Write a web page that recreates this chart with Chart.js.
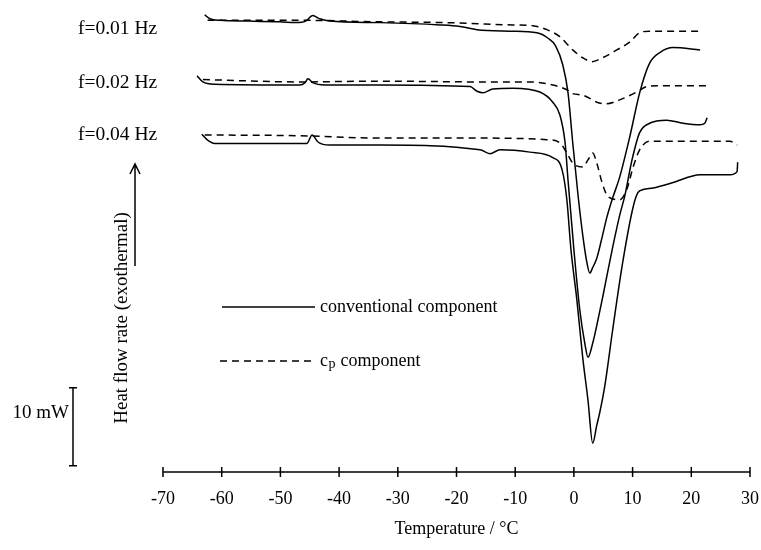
<!DOCTYPE html>
<html lang="en">
<head>
    <meta charset="UTF-8">
    <title>Heat flow rate vs temperature</title>
    <script src="https://cdn.jsdelivr.net/npm/chart.js"></script>
    <style>
        body { margin: 0; background: #fff; }
        canvas { display: block; }
    </style>
</head>
<body>
    <canvas id="dsc" width="761" height="550"></canvas>

    <script>
        // temperatures (°C) and heat flow values (mW, 0 = temperature axis)
        const tempConv001 = [-62.9, -62.0, -60.3, -55.2, -50.1, -47.4, -45.7, -44.5, -43.3, -41.6, -33.0, -22.8, -19.4, -16.5, -10.9, -6.3, -4.4, -3.1, -1.9, -1.0, -0.2, 0.7, 1.5, 2.2, 2.7, 3.2, 3.9, 4.9, 5.6, 6.5, 7.8, 9.5, 11.2, 12.9, 14.7, 16.9, 21.5];
        const flowConv001 = [58.6, 58.1, 57.9, 57.8, 57.7, 57.6, 57.8, 58.5, 58.1, 57.8, 57.6, 57.3, 57.1, 56.7, 56.5, 56.3, 55.6, 54.6, 52.2, 48.6, 42.2, 35.5, 30.4, 26.9, 25.5, 26.2, 27.4, 30.4, 32.6, 34.9, 37.8, 42.9, 48.6, 52.4, 53.8, 54.4, 54.1];

        const tempCp001 = [-62.4, -46.7, -33.0, -21.6, -10.4, -7.0, -4.6, -2.4, -0.2, 1.5, 3.1, 4.9, 7.3, 9.5, 11.2, 12.9, 21.5];
        const flowCp001 = [57.9, 57.9, 57.7, 57.6, 57.3, 57.2, 56.7, 55.8, 54.1, 53.1, 52.6, 53.1, 54.1, 55.1, 56.3, 56.5, 56.5];

        const tempConv002 = [-64.2, -63.2, -61.2, -46.7, -45.8, -45.3, -44.5, -42.4, -33.0, -17.7, -16.5, -15.5, -13.8, -10.4, -5.8, -3.6, -2.4, -1.5, -1.0, 0.0, 1.0, 1.9, 2.4, 3.2, 4.1, 4.9, 6.6, 7.8, 8.7, 9.9, 11.2, 12.9, 15.8, 18.6, 21.5, 22.3, 22.7];
        const flowConv002 = [50.8, 50.0, 49.7, 49.6, 49.9, 50.4, 49.9, 49.6, 49.6, 49.4, 48.8, 48.6, 49.1, 49.2, 48.7, 47.4, 45.8, 42.2, 37.4, 28.5, 20.8, 16.3, 14.7, 16.5, 19.5, 22.4, 28.8, 32.9, 35.5, 40.0, 43.5, 44.7, 45.1, 44.7, 44.5, 44.7, 45.4];

        const tempCp002 = [-63.2, -46.7, -33.0, -16.0, -7.5, -3.6, -1.2, -0.2, 1.5, 2.7, 3.9, 5.6, 7.8, 10.7, 12.4, 14.1, 22.7];
        const flowCp002 = [50.3, 50.0, 50.1, 50.0, 50.0, 49.6, 49.0, 48.5, 48.3, 47.9, 47.4, 47.2, 47.7, 48.7, 49.4, 49.5, 49.5];

        const tempConv004 = [-63.4, -62.5, -61.2, -50.1, -45.5, -44.6, -43.6, -41.6, -33.0, -16.0, -14.3, -12.6, -7.5, -3.6, -2.0, -1.2, -0.5, 0.5, 1.5, 2.4, 3.2, 3.9, 4.4, 5.3, 6.6, 8.3, 10.1, 10.9, 11.8, 13.5, 16.9, 21.5, 26.6, 27.8, 27.9];
        const flowConv004 = [43.3, 42.6, 42.1, 42.1, 42.1, 43.2, 42.3, 41.9, 41.9, 41.3, 40.8, 41.3, 41.0, 40.3, 38.7, 34.9, 28.5, 22.1, 14.7, 9.2, 3.7, 6.0, 7.6, 11.2, 18.2, 26.8, 34.0, 35.8, 36.2, 36.4, 37.1, 38.1, 38.1, 38.5, 39.7];

        const tempCp004 = [-62.9, -46.7, -33.0, -16.0, -4.6, -2.4, -1.2, -0.2, 1.5, 2.4, 3.2, 3.9, 4.8, 5.8, 7.8, 9.0, 10.1, 11.2, 12.9, 26.6, 27.8];
        const flowCp004 = [43.2, 43.1, 42.8, 42.8, 42.6, 42.2, 40.9, 39.6, 39.1, 40.0, 40.9, 39.6, 37.1, 35.3, 34.9, 36.2, 39.1, 41.3, 42.4, 42.4, 41.9];

        const xTicks = [-70, -60, -50, -40, -30, -20, -10, 0, 10, 20, 30];
        const freqLabels = ['f=0.01 Hz', 'f=0.02 Hz', 'f=0.04 Hz'];

        function pairs(xs, ys) {
            return xs.map((x, i) => ({ x: x, y: ys[i] }));
        }

        function curve(xs, ys, dashed) {
            return {
                data: pairs(xs, ys),
                borderColor: '#000',
                borderWidth: 1.5,
                borderDash: dashed ? [7, 5] : [],
                pointRadius: 0,
                fill: false,
                cubicInterpolationMode: 'monotone'
            };
        }

        const serif = '"Liberation Serif", "DejaVu Serif", serif';
        Chart.defaults.font.family = serif;
        Chart.defaults.color = '#000';

        // axis line, crossing ticks and the free text around the plot
        const decorations = {
            id: 'decorations',
            afterDraw(chart) {
                const ctx = chart.ctx;
                const xs = chart.scales.x;
                const ys = chart.scales.y;
                const axisY = chart.chartArea.bottom;

                ctx.save();
                ctx.strokeStyle = '#000';
                ctx.fillStyle = '#000';
                ctx.lineWidth = 1.5;

                // temperature axis
                ctx.beginPath();
                ctx.moveTo(xs.left, axisY);
                ctx.lineTo(xs.right, axisY);
                xTicks.forEach(t => {
                    const px = xs.getPixelForValue(t);
                    ctx.moveTo(px, axisY - 5);
                    ctx.lineTo(px, axisY + 5);
                });
                ctx.stroke();

                // frequency labels
                ctx.font = '19.5px ' + serif;
                ctx.textBaseline = 'middle';
                ctx.textAlign = 'left';
                ctx.fillText(freqLabels[0], 78, 29);
                ctx.fillText(freqLabels[1], 78, 83);
                ctx.fillText(freqLabels[2], 78, 135);

                // y title and arrow
                ctx.font = '19px ' + serif;
                ctx.save();
                ctx.translate(122, 318);
                ctx.rotate(-Math.PI / 2);
                ctx.textAlign = 'center';
                ctx.fillText('Heat flow rate (exothermal)', 0, 0);
                ctx.restore();

                ctx.beginPath();
                ctx.moveTo(135, 266);
                ctx.lineTo(135, 165);
                ctx.moveTo(130, 174);
                ctx.lineTo(135, 164);
                ctx.lineTo(140, 174);
                ctx.stroke();

                // 10 mW scale bar
                const barTop = ys.getPixelForValue(10.8);
                const barBot = ys.getPixelForValue(0.8);
                ctx.beginPath();
                ctx.moveTo(73, barTop);
                ctx.lineTo(73, barBot);
                ctx.moveTo(69, barTop);
                ctx.lineTo(77, barTop);
                ctx.moveTo(69, barBot);
                ctx.lineTo(77, barBot);
                ctx.stroke();
                ctx.textAlign = 'right';
                ctx.fillText('10 mW', 69, 413);

                // legend
                ctx.font = '18px ' + serif;
                ctx.textAlign = 'left';
                ctx.beginPath();
                ctx.moveTo(222, 307);
                ctx.lineTo(315, 307);
                ctx.stroke();
                ctx.fillText('conventional component', 320, 307);

                ctx.setLineDash([7, 5]);
                ctx.beginPath();
                ctx.moveTo(220, 361);
                ctx.lineTo(315, 361);
                ctx.stroke();
                ctx.setLineDash([]);
                ctx.fillText('c', 320, 361);
                const cw = ctx.measureText('c').width;
                ctx.font = '14px ' + serif;
                ctx.fillText('p', 320 + cw + 0.5, 364);
                const pw = ctx.measureText('p').width;
                ctx.font = '18px ' + serif;
                ctx.fillText(' component', 320 + cw + pw + 1, 361);

                ctx.restore();
            }
        };

        new Chart(document.getElementById('dsc'), {
            type: 'line',
            data: {
                datasets: [
                    curve(tempConv001, flowConv001, false),
                    curve(tempCp001, flowCp001, true),
                    curve(tempConv002, flowConv002, false),
                    curve(tempCp002, flowCp002, true),
                    curve(tempConv004, flowConv004, false),
                    curve(tempCp004, flowCp004, true)
                ]
            },
            options: {
                responsive: false,
                animation: false,
                layout: { padding: { left: 163, right: 11, top: 0, bottom: 0 } },
                plugins: {
                    legend: { display: false },
                    tooltip: { enabled: false }
                },
                scales: {
                    x: {
                        type: 'linear',
                        min: -70,
                        max: 30,
                        afterFit(scale) {
                            scale.height = 78;
                            scale.paddingLeft = 0;
                            scale.paddingRight = 0;
                        },
                        afterBuildTicks(scale) {
                            scale.ticks = xTicks.map(v => ({ value: v }));
                        },
                        grid: { display: false, drawTicks: false },
                        border: { display: false },
                        ticks: {
                            padding: 16,
                            maxRotation: 0,
                            font: { size: 18, family: serif },
                            color: '#000'
                        },
                        title: {
                            display: true,
                            text: 'Temperature / °C',
                            font: { size: 18, family: serif },
                            color: '#000',
                            padding: { top: 0, bottom: 10 }
                        }
                    },
                    y: {
                        display: false,
                        min: 0,
                        max: 60.5
                    }
                }
            },
            plugins: [decorations]
        });
    </script>
</body>
</html>
